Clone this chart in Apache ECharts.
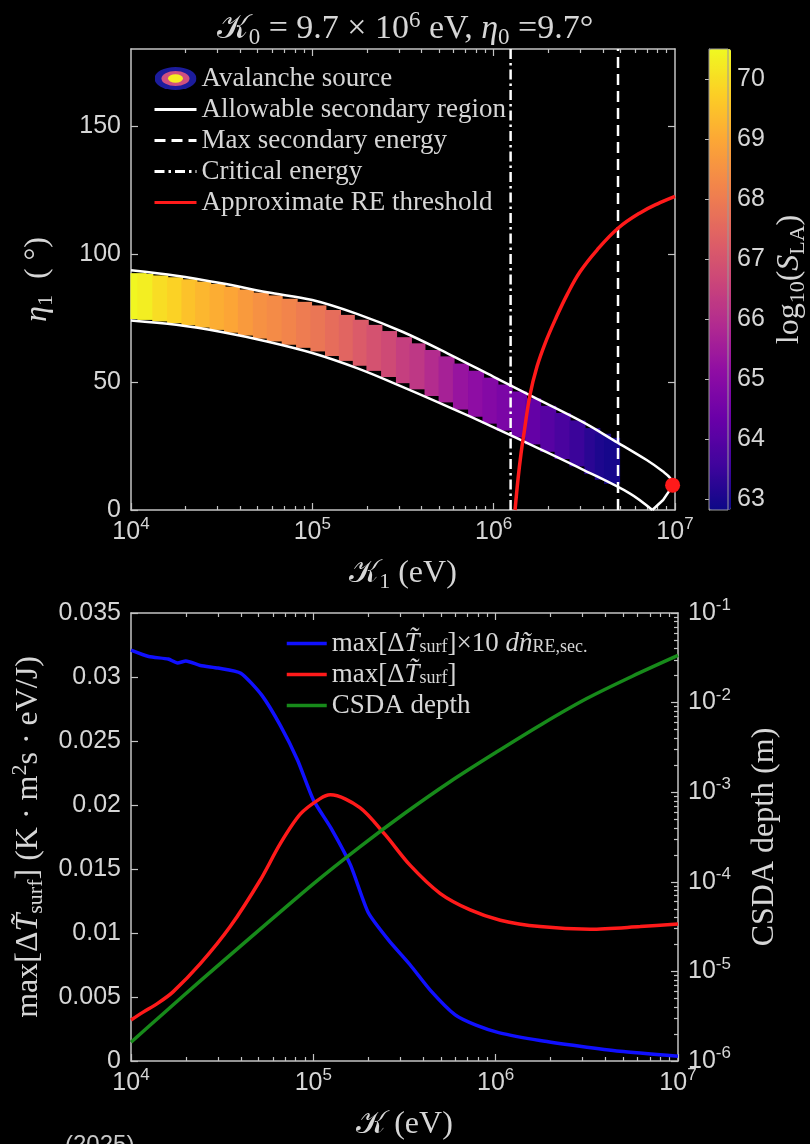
<!DOCTYPE html>
<html>
<head>
<meta charset="utf-8">
<script src="https://cdn.jsdelivr.net/npm/echarts@6/dist/echarts.min.js"></script>
<style>
  html, body { margin: 0; padding: 0; background: #000; }
  #chart { width: 810px; height: 1144px; }
</style>
</head>
<body>
<div id="chart"></div>
<script>
// ---------- top panel: (K1, eta1) plane ----------
// allowable secondary region: lower edge, the short arm up to the tip, upper edge
const lowerK   = [1e4, 1.778e4, 3.162e4, 5.623e4, 1e5, 1.778e5, 3.162e5, 5.623e5, 1e6, 1.778e6, 3.162e6, 5.623e6, 7.5e6];
const lowerEta = [74, 72.3, 69.5, 65.8, 61.3, 55.3, 48, 40.3, 32.3, 24, 15.5, 6.5, 0];
const armK     = [7.5e6, 8.6e6, 9.2e6, 9.7e6];
const armEta   = [0, 3.9, 7, 9.7];
const upperK   = [1e4, 1.778e4, 3.162e4, 5.623e4, 1e5, 1.778e5, 3.162e5, 5.623e5, 1e6, 1.778e6, 3.162e6, 4.571e6, 6.98e6, 8.59e6, 9.4e6, 9.7e6];
const upperEta = [93.6, 91.5, 88.5, 85, 82, 76.5, 69.5, 61, 52, 43, 34, 27.3, 19.5, 15, 12.5, 9.7];

const critK = 1.24e6;     // critical energy
const maxSecK = 4.85e6;   // max secondary energy (K0/2)

// approximate RE threshold
const reK   = [1.312e6, 1.362e6, 1.415e6, 1.47e6, 1.587e6, 1.734e6, 1.92e6, 2.207e6, 2.538e6, 2.994e6, 3.715e6, 4.851e6, 6.412e6, 8.265e6, 1e7];
const reEta = [0, 12, 22, 30, 45, 56, 65, 75, 84, 93, 101.5, 110, 116, 120, 122.5];

// primary electron (K0, eta0)
const seedK = [9.7e6];
const seedEta = [9.7];

// avalanche source samples: K1, eta1, log10(S_LA)
const srcK = [1.1e4, 1.2e4, 1.45e4, 1.75e4, 2.1e4, 2.5e4, 3e4, 3.6e4, 4.3e4, 5.2e4, 6.2e4, 7.5e4, 9e4,
              1.08e5, 1.3e5, 1.55e5, 1.85e5, 2.2e5, 2.65e5, 3.2e5, 3.8e5, 4.6e5, 5.5e5, 6.6e5, 8e5, 9.6e5,
              1.15e6, 1.38e6, 1.65e6, 2e6, 2.4e6, 2.9e6, 3.5e6, 4.0e6, 4.5e6];
const srcEta = [83.5, 83.2, 82.6, 81.9, 81.1, 80.2, 79.3, 78.2, 77.1, 75.9, 74.8, 73.5, 72.3,
                70.9, 69.1, 67.2, 65.3, 63.3, 60.9, 58.5, 56.1, 53.5, 51.0, 48.2, 45.4, 42.7,
                40.0, 37.3, 34.6, 31.7, 28.9, 26.0, 23.0, 20.8, 19.2];
const srcLogS = [70.45, 70.3, 70.0, 69.8, 69.5, 69.3, 69.1, 68.95, 68.7, 68.5, 68.35, 68.2, 68.0,
                 67.85, 67.65, 67.45, 67.2, 66.95, 66.75, 66.45, 66.25, 65.95, 65.65, 65.3, 65.1, 64.9,
                 64.7, 64.5, 64.25, 64.0, 63.75, 63.5, 63.25, 63.05, 62.95];

const cbMin = 62.82, cbMax = 70.5;
const cbTicks = [63, 64, 65, 66, 67, 68, 69, 70];
const etaTicks = [0, 50, 100, 150];

// ---------- bottom panel ----------
const blueK = [1e4, 1.25e4, 1.6e4, 1.8e4, 2e4, 2.4e4, 3e4, 4e4, 5.2e4, 6.6e4, 8.2e4, 1e5, 1.25e5, 1.6e5, 2e5,
               2.6e5, 3.4e5, 4.4e5, 6e5, 7.8e5, 1.05e6, 1.75e6, 2.9e6, 4.8e6, 1e7];
const blueVal = [0.0321, 0.0316, 0.0314, 0.0311, 0.03125, 0.0309, 0.0307, 0.0303, 0.0286, 0.0262, 0.0235, 0.0204, 0.0182, 0.0153, 0.0116,
                 0.0094, 0.0075, 0.0055, 0.0036, 0.0028, 0.0022, 0.0016, 0.00115, 0.00076, 0.00037];

const redK = [1e4, 1.16e4, 1.4e4, 1.7e4, 2.4e4, 3.5e4, 5.1e4, 6.6e4, 8.5e4, 1.09e5, 1.24e5, 1.8e5, 2.47e5, 3.39e5,
              4.95e5, 7.25e5, 1.06e6, 1.75e6, 3.3e6, 6.2e6, 1e7];
const redVal = [0.0032, 0.0038, 0.0045, 0.0054, 0.0076, 0.0105, 0.0141, 0.0170, 0.0193, 0.0205, 0.0208, 0.0198, 0.0177, 0.0153,
                0.0131, 0.0118, 0.0110, 0.0105, 0.0103, 0.0105, 0.0107];

const greenK = [1e4, 1.5e4, 2.4e4, 4e4, 1e5, 1.8e5, 3.16e5, 5.62e5, 1e6, 1.8e6, 3.16e6, 5.62e6, 1e7];
const greenDepth = [1.62e-6, 3.37e-6, 7.83e-6, 1.93e-5, 9.5e-5, 2.46e-4, 5.79e-4, 1.31e-3, 2.77e-3, 5.78e-3, 1.11e-2, 1.97e-2, 3.36e-2];

// ---------- styling ----------
const serif = "'Liberation Serif', 'DejaVu Serif', serif";
const sans = "'Liberation Sans', Arial, sans-serif";
const calFont = "'DejaVu Sans', 'Noto Sans', 'Liberation Serif', serif";
const txtCol = '#d6d6d6';
const axisCol = '#c4c4c4';
const plasma = ['#0d0887', '#41049d', '#6a00a8', '#8f0da4', '#b12a90', '#cc4778', '#e16462', '#f2844b', '#fca636', '#fcce25', '#f0f921'];

function mathRich(size, lh) {
  const base = { fontFamily: serif, fontSize: size, fontWeight: 'normal', color: txtCol, lineHeight: lh };
  const small = Math.round(size * 0.68);
  const sm = { fontFamily: serif, fontSize: small, fontWeight: 'normal', color: txtCol, lineHeight: Math.round(lh * 0.45) };
  return {
    n: base,
    i: Object.assign({}, base, { fontStyle: 'italic' }),
    k: Object.assign({}, base, { fontFamily: calFont }),
    s: Object.assign({}, sm, { verticalAlign: 'bottom' }),
    sup: Object.assign({}, sm, { verticalAlign: 'top' })
  };
}

const decadeRich = { sup: { fontFamily: sans, fontSize: 17, color: txtCol, lineHeight: 14, verticalAlign: 'top' } };
function decadeLabel(v) {
  return '10{sup|' + Math.round(Math.log10(v)) + '}';
}
const minorMult = [2, 3, 4, 5, 6, 7, 8, 9];
function minorLogs(d0, d1) {
  const out = [];
  for (let d = d0; d < d1; d++) minorMult.forEach(m => out.push(d + Math.log10(m)));
  return out;
}
// tick-only helper axis (log10 space)
function tickAxis(grid, pos, lo, hi, vals, len, line) {
  return {
    type: 'value', gridIndex: grid, position: pos, min: lo, max: hi,
    axisLine: { show: !!line, lineStyle: { color: axisCol, width: 1.5 } },
    axisTick: { show: true, inside: true, length: len, customValues: vals, lineStyle: { color: axisCol, width: 1.2 } },
    axisLabel: { show: false }, splitLine: { show: false }
  };
}
function logAxisX(grid, nameTxt) {
  return {
    type: 'log', logBase: 10, gridIndex: grid, min: 1e4, max: 1e7, position: 'bottom',
    axisLine: { show: true, lineStyle: { color: axisCol, width: 1.5 } },
    axisTick: { show: true, inside: true, length: 7, lineStyle: { color: axisCol, width: 1.2 } },
    axisLabel: { formatter: decadeLabel, fontFamily: sans, fontSize: 25, color: txtCol, lineHeight: 32, margin: 6, rich: decadeRich },
    splitLine: { show: false },
    name: nameTxt, nameLocation: 'middle', nameGap: 45,
    nameTextStyle: { rich: mathRich(32, 38) }
  };
}

const srcIcon = 'image://data:image/svg+xml;utf8,' + encodeURIComponent(
  '<svg xmlns="http://www.w3.org/2000/svg" width="42" height="23">' +
  '<ellipse cx="21" cy="11.5" rx="21" ry="11.5" fill="#1c1c9c"/>' +
  '<ellipse cx="21" cy="11.5" rx="14" ry="7.6" fill="#d05080"/>' +
  '<ellipse cx="21" cy="11.5" rx="7.5" ry="4.2" fill="#f6ee22"/></svg>');

const bottomNames = {
  blue: '{n|max[Δ}{i|T\u0303}{s|surf}{n|]×10 }{i|dñ}{s|RE,sec.}',
  red: '{n|max[Δ}{i|T\u0303}{s|surf}{n|]}',
  'CSDA depth': '{n|CSDA depth}'
};

const whiteLine = { color: '#ffffff', width: 2.5 };
const regionName = 'Allowable secondary region';

const chart = echarts.init(document.getElementById('chart'));

const option = {
  backgroundColor: '#000',
  animation: false,
  title: {
    text: '{k|𝒦}{s|0}{n| = 9.7 × 10}{sup|6}{n| eV, }{i|η}{s|0}{n| =9.7°}',
    left: 'center', top: 4,
    textStyle: { fontWeight: 'normal', rich: mathRich(34, 40) }
  },
  grid: [
    { left: 131, top: 49, width: 544, height: 461 },
    { left: 709, top: 49, width: 22, height: 461, show: true, borderColor: '#9a9a9a', borderWidth: 1, backgroundColor: 'transparent', z: 10 },
    { left: 131, top: 613, width: 547, height: 448 }
  ],
  legend: [
    {
      orient: 'vertical', left: 148, top: 60, itemWidth: 42, itemHeight: 23, itemGap: 4,
      selectedMode: false,
      itemStyle: { opacity: 0 },
      lineStyle: { width: 3 },
      textStyle: { fontFamily: serif, fontSize: 27, color: txtCol, lineHeight: 26 },
      data: [{ name: 'Avalanche source', icon: srcIcon, itemStyle: { opacity: 1 } }, regionName,
             'Max secondary energy', 'Critical energy', 'Approximate RE threshold']
    },
    {
      orient: 'vertical', left: 280, top: 625, itemWidth: 40, itemHeight: 23, itemGap: 4,
      selectedMode: false,
      itemStyle: { opacity: 0 },
      lineStyle: { width: 3.5 },
      formatter: name => bottomNames[name],
      textStyle: { color: txtCol, lineHeight: 26, rich: mathRich(27, 26) },
      data: ['blue', 'red', 'CSDA depth']
    }
  ],
  visualMap: {
    type: 'continuous', seriesIndex: 0, dimension: 2, min: cbMin, max: cbMax,
    calculable: false, orient: 'vertical', left: 709, top: 49, padding: 0,
    itemWidth: 22, itemHeight: 461, text: null,
    inRange: { color: plasma }
  },
  xAxis: [
    logAxisX(0, '{k|𝒦}{s|1}{n| (eV)}'),
    tickAxis(0, 'bottom', 4, 7, minorLogs(4, 7), 4, false),
    tickAxis(0, 'top', 4, 7, [5, 6], 7, true),
    tickAxis(0, 'top', 4, 7, minorLogs(4, 7), 4, false),
    { type: 'value', gridIndex: 1, min: 0, max: 1, show: false },
    logAxisX(2, '{k|𝒦}{n| (eV)}'),
    tickAxis(2, 'bottom', 4, 7, minorLogs(4, 7), 4, false),
    tickAxis(2, 'top', 4, 7, [5, 6], 7, true),
    tickAxis(2, 'top', 4, 7, minorLogs(4, 7), 4, false)
  ],
  yAxis: [
    {
      type: 'value', gridIndex: 0, min: 0, max: 180, position: 'left',
      axisLine: { show: true, lineStyle: { color: axisCol, width: 1.5 } },
      axisTick: { show: true, inside: true, length: 7, customValues: etaTicks, lineStyle: { color: axisCol, width: 1.2 } },
      axisLabel: { customValues: etaTicks, fontFamily: sans, fontSize: 25, color: txtCol, margin: 10 },
      splitLine: { show: false },
      name: '{i|η}{s|1}{n|  ( °)}', nameLocation: 'middle', nameRotate: 90, nameGap: 74,
      nameTextStyle: { rich: mathRich(32, 38) }
    },
    {
      type: 'value', gridIndex: 0, min: 0, max: 180, position: 'right',
      axisLine: { show: true, lineStyle: { color: axisCol, width: 1.5 } },
      axisTick: { show: true, inside: true, length: 7, customValues: [50, 100, 150], lineStyle: { color: axisCol, width: 1.2 } },
      axisLabel: { show: false }, splitLine: { show: false }
    },
    {
      type: 'value', gridIndex: 1, min: cbMin, max: cbMax, position: 'right',
      axisLine: { show: true, lineStyle: { color: '#9a9a9a', width: 1 } },
      axisTick: { show: true, inside: true, length: 4, customValues: cbTicks, lineStyle: { color: '#bbb', width: 1 } },
      axisLabel: { customValues: cbTicks, fontFamily: sans, fontSize: 25, color: txtCol, margin: 9 },
      splitLine: { show: false },
      name: '{n|log}{s|10}{n|(}{i|S}{s|LA}{n|)}', nameLocation: 'middle', nameRotate: 90, nameGap: 43,
      nameTextStyle: { rich: mathRich(32, 38) }
    },
    {
      type: 'value', gridIndex: 2, min: 0, max: 0.035, interval: 0.005, position: 'left',
      axisLine: { show: true, lineStyle: { color: axisCol, width: 1.5 } },
      axisTick: { show: true, inside: true, length: 7, lineStyle: { color: axisCol, width: 1.2 } },
      axisLabel: { formatter: v => (v === 0 ? '0' : String(+v.toFixed(3))), fontFamily: sans, fontSize: 25, color: txtCol, margin: 10 },
      splitLine: { show: false },
      name: '{n|max[Δ}{i|T\u0303}{s|surf}{n|] (K · m}{sup|2}{n|s · eV/J)}', nameLocation: 'middle', nameRotate: 90, nameGap: 82,
      nameTextStyle: { rich: mathRich(32, 38) }
    },
    {
      type: 'log', logBase: 10, gridIndex: 2, min: 1e-6, max: 1e-1, position: 'right',
      axisLine: { show: true, lineStyle: { color: axisCol, width: 1.5 } },
      axisTick: { show: true, inside: true, length: 7, lineStyle: { color: axisCol, width: 1.2 } },
      axisLabel: { formatter: decadeLabel, fontFamily: sans, fontSize: 25, color: txtCol, lineHeight: 32, margin: 10, rich: decadeRich },
      splitLine: { show: false },
      name: '{n|CSDA depth (m)}', nameLocation: 'middle', nameRotate: 90, nameGap: 68,
      nameTextStyle: { rich: mathRich(32, 38) }
    },
    tickAxis(2, 'right', -6, -1, minorLogs(-6, -1), 4, false)
  ],
  series: [
    {
      type: 'scatter', name: 'Avalanche source', xAxisIndex: 0, yAxisIndex: 0,
      symbol: 'rect', symbolSize: [16, 46], silent: true, z: 2,
      itemStyle: { opacity: 1 },
      data: srcK.map((k, i) => [k, srcEta[i], srcLogS[i]])
    },
    {
      type: 'line', name: regionName, xAxisIndex: 0, yAxisIndex: 0,
      symbol: 'none', smooth: 0.35, z: 3, lineStyle: whiteLine, itemStyle: { color: '#ffffff' },
      data: upperK.map((k, i) => [k, upperEta[i]])
    },
    {
      type: 'line', name: regionName, xAxisIndex: 0, yAxisIndex: 0,
      symbol: 'none', smooth: 0.35, z: 3, lineStyle: whiteLine, itemStyle: { color: '#ffffff' },
      data: lowerK.map((k, i) => [k, lowerEta[i]])
    },
    {
      type: 'line', name: regionName, xAxisIndex: 0, yAxisIndex: 0,
      symbol: 'none', z: 3, lineStyle: whiteLine, itemStyle: { color: '#ffffff' },
      data: armK.map((k, i) => [k, armEta[i]])
    },
    {
      type: 'line', name: 'Max secondary energy', xAxisIndex: 0, yAxisIndex: 0,
      symbol: 'none', z: 4, lineStyle: { color: '#ffffff', width: 2.5, type: [11, 6] }, itemStyle: { color: '#ffffff' },
      data: [[maxSecK, 0], [maxSecK, 180]]
    },
    {
      type: 'line', name: 'Critical energy', xAxisIndex: 0, yAxisIndex: 0,
      symbol: 'none', z: 4, lineStyle: { color: '#ffffff', width: 2.5, type: [10, 4, 2.5, 4] }, itemStyle: { color: '#ffffff' },
      data: [[critK, 0], [critK, 180]]
    },
    {
      type: 'line', name: 'Approximate RE threshold', xAxisIndex: 0, yAxisIndex: 0,
      symbol: 'none', smooth: 0.4, z: 5, lineStyle: { color: '#ff1a1a', width: 3.5 }, itemStyle: { color: '#ff1a1a' },
      data: reK.map((k, i) => [k, reEta[i]])
    },
    {
      type: 'scatter', name: 'seed', xAxisIndex: 0, yAxisIndex: 0, symbolSize: 15, z: 6,
      itemStyle: { color: '#ff1a1a', opacity: 1 }, clip: false,
      data: seedK.map((k, i) => [k, seedEta[i]])
    },
    {
      type: 'line', name: 'blue', xAxisIndex: 5, yAxisIndex: 3, symbol: 'none', smooth: 0.2,
      lineStyle: { color: '#1010ff', width: 3.5 }, itemStyle: { color: '#1010ff' },
      data: blueK.map((k, i) => [k, blueVal[i]])
    },
    {
      type: 'line', name: 'red', xAxisIndex: 5, yAxisIndex: 3, symbol: 'none', smooth: 0.3,
      lineStyle: { color: '#ff1a1a', width: 3.5 }, itemStyle: { color: '#ff1a1a' },
      data: redK.map((k, i) => [k, redVal[i]])
    },
    {
      type: 'line', name: 'CSDA depth', xAxisIndex: 5, yAxisIndex: 4, symbol: 'none', smooth: 0.3,
      lineStyle: { color: '#178a1a', width: 3.5 }, itemStyle: { color: '#178a1a' },
      data: greenK.map((k, i) => [k, greenDepth[i]])
    }
  ],
  graphic: [
    { type: 'text', left: 65, top: 1133, style: { text: '(2025)', font: '24px ' + sans, fill: '#c8c8c8' } }
  ]
};

chart.setOption(option);
</script>
</body>
</html>
